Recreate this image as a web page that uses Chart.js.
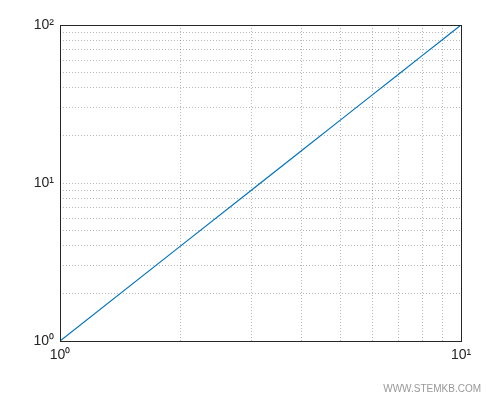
<!DOCTYPE html>
<html>
<head>
<meta charset="utf-8">
<script src="https://cdn.jsdelivr.net/npm/chart.js@4/dist/chart.umd.min.js"></script>
<style>
  html, body { margin: 0; padding: 0; background: #fff; }
  #wrap { width: 500px; height: 400px; }
</style>
</head>
<body>
<div id="wrap"><canvas id="chart"></canvas></div>
<script>
const xValues = [1, 2, 3, 4, 5, 6, 7, 8, 9, 10];
const yValues = [1, 4, 9, 16, 25, 36, 49, 64, 81, 100];
const xTicks = [1, 2, 3, 4, 5, 6, 7, 8, 9, 10];
const yTicks = [1, 2, 3, 4, 5, 6, 7, 8, 9, 10, 20, 30, 40, 50, 60, 70, 80, 90, 100];
const powerLabels = { 1: '10\u2070', 10: '10\u00b9', 100: '10\u00b2' };

// box around the plot area plus watermark
const framePlugin = {
    id: 'frame',
    afterDraw(chart) {
        const { ctx, chartArea: a } = chart;
        ctx.save();
        ctx.strokeStyle = '#262626';
        ctx.lineWidth = 1;
        ctx.setLineDash([]);
        ctx.strokeRect(a.left + 0.5, a.top + 0.5, a.right - a.left, a.bottom - a.top);
        ctx.fillStyle = '#999';
        ctx.font = '10px "Liberation Sans", Arial, sans-serif';
        ctx.textAlign = 'right';
        ctx.fillText('WWW.STEMKB.COM', 481, 392);
        ctx.restore();
    }
};

const gridOpts = { color: 'rgba(0,0,0,0.28)', lineWidth: 1, drawTicks: false };
const tickFont = { family: '"Liberation Sans", Arial, sans-serif', size: 14 };

new Chart(document.getElementById('chart'), {
    type: 'line',
    data: {
        datasets: [{
            data: xValues.map((x, i) => ({ x, y: yValues[i] })),
            borderColor: '#0072BD',
            borderWidth: 1.2,
            pointRadius: 0,
            fill: false,
            tension: 0
        }]
    },
    options: {
        responsive: true,
        maintainAspectRatio: false,
        animation: false,
        layout: { padding: { top: 25, right: 39, left: 0, bottom: 0 } },
        plugins: { legend: { display: false }, tooltip: { enabled: false } },
        scales: {
            x: {
                type: 'logarithmic',
                min: 1, max: 10,
                afterBuildTicks: (s) => { s.ticks = xTicks.map(v => ({ value: v })); },
                afterFit: (s) => { s.height = 59; },
                grid: gridOpts,
                border: { display: false, dash: [1, 2] },
                ticks: {
                    autoSkip: false, maxRotation: 0, padding: 6,
                    color: '#262626', font: tickFont,
                    callback: (v) => powerLabels[v] || ''
                }
            },
            y: {
                type: 'logarithmic',
                min: 1, max: 100,
                afterBuildTicks: (s) => { s.ticks = yTicks.map(v => ({ value: v })); },
                afterFit: (s) => { s.width = 60; },
                grid: gridOpts,
                border: { display: false, dash: [1, 2] },
                ticks: {
                    autoSkip: false, padding: 6,
                    color: '#262626', font: tickFont,
                    callback: (v) => powerLabels[v] || ''
                }
            }
        }
    },
    plugins: [framePlugin]
});
</script>
</body>
</html>
